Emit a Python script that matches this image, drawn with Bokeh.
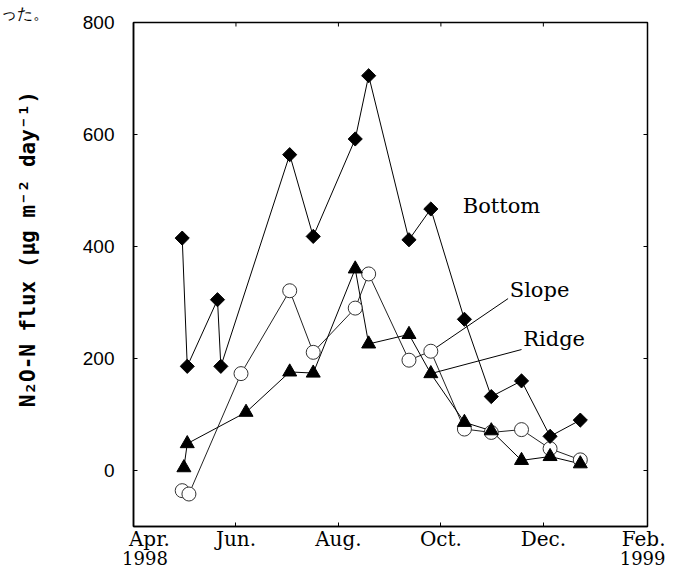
import numpy as np
import pandas as pd
from bokeh.plotting import figure
from bokeh.models import Range1d, FixedTicker, DatetimeAxis, Label, Title
from bokeh.embed import file_html
from bokeh.resources import INLINE

# ---------------- data ----------------
bottom_dates = ["1998-04-30", "1998-05-03", "1998-05-21", "1998-05-23", "1998-07-03",
                "1998-07-17", "1998-08-11", "1998-08-19", "1998-09-12", "1998-09-25",
                "1998-10-15", "1998-10-31", "1998-11-18", "1998-12-05", "1998-12-23"]
bottom_vals = [415, 186, 305, 186, 564, 418, 592, 705, 412, 467, 270, 132, 160, 61, 90]

slope_dates = ["1998-04-30", "1998-05-04", "1998-06-04", "1998-07-03", "1998-07-17",
               "1998-08-11", "1998-08-19", "1998-09-12", "1998-09-25", "1998-10-15",
               "1998-10-31", "1998-11-18", "1998-12-05", "1998-12-23"]
slope_vals = [-36, -42, 173, 321, 211, 290, 351, 197, 213, 74, 68, 73, 39, 19]

ridge_dates = ["1998-05-01", "1998-05-03", "1998-06-07", "1998-07-03", "1998-07-17",
               "1998-08-11", "1998-08-19", "1998-09-12", "1998-09-25", "1998-10-15",
               "1998-10-31", "1998-11-18", "1998-12-05", "1998-12-23"]
ridge_vals = [5, 48, 104, 176, 174, 360, 226, 243, 173, 86, 71, 18, 25, 12]

month_ticks = ["1998-04-01", "1998-06-01", "1998-08-01", "1998-10-01", "1998-12-01", "1999-02-01"]
month_labels = ["Apr.", "Jun.", "Aug.", "Oct.", "Dec.", "Feb."]
year_ticks = ["1998-04-01", "1999-02-01"]
year_labels = ["1998", "1999"]
y_ticks = [0, 200, 400, 600, 800]
y_min, y_max = -100, 800

y_title = "N\u2082O-N flux (\u03bcg m\u207b\u00b2 day\u207b\u00b9)"
corner_text = "った。"

# series name labels: (text, anchor date, anchor value)
name_labels = [("Bottom", "1998-10-14", 473), ("Slope", "1998-11-11", 323), ("Ridge", "1998-11-19", 234)]
# leader lines: start (date, value) -> end at the series point of this date
leader_end_date = "1998-09-25"
slope_leader_start = ("1998-11-10", 307)
ridge_leader_start = ("1998-11-18", 216)

NB = "\u00a0"


def ms(s):
    return int(pd.Timestamp(s).value // 10**6)


bx = [ms(d) for d in bottom_dates]
sx = [ms(d) for d in slope_dates]
rx = [ms(d) for d in ridge_dates]
tick_ms = [ms(t) for t in month_ticks]
year_ms = [ms(t) for t in year_ticks]

p = figure(width=665, height=571, x_axis_type="datetime",
           x_range=Range1d(tick_ms[0], tick_ms[-1]), y_range=Range1d(y_min, y_max),
           output_backend="svg", toolbar_location=None,
           min_border_left=133, min_border_right=18, min_border_top=22, min_border_bottom=45)
p.grid.visible = False
p.outline_line_color = "black"
p.outline_line_width = 1.5
p.background_fill_color = "white"
p.border_fill_color = "white"

# corner fragment of Japanese text (as title, shifted to the page's left edge)
p.title = Title(text=corner_text, align="left", offset=-133, standoff=0,
                text_font="DejaVu Sans", text_font_size="16px", text_line_height=1.0,
                text_font_style="normal", text_color="black")

# bottom x axis (months)
xa = p.xaxis[0]
xa.ticker = FixedTicker(ticks=tick_ms)
xa.major_label_overrides = {t: ((NB * 5 + lab) if i == 0 else lab)
                            for i, (t, lab) in enumerate(zip(tick_ms, month_labels))}
xa.major_label_text_font = "DejaVu Serif"
xa.major_label_text_font_size = "20px"
xa.major_label_text_color = "black"
xa.major_label_standoff = 0
xa.major_tick_in = 4
xa.major_tick_out = 0
xa.minor_tick_line_color = None
xa.axis_line_color = "black"
xa.axis_line_width = 1.5
xa.major_tick_line_color = "black"

# second bottom axis (years)
yr = DatetimeAxis(ticker=FixedTicker(ticks=year_ms),
                  major_label_overrides={year_ms[0]: NB * 4 + year_labels[0], year_ms[1]: year_labels[1]},
                  major_label_text_font="DejaVu Serif", major_label_text_font_size="18px",
                  major_label_text_color="black", major_label_standoff=-6,
                  major_tick_in=0, major_tick_out=0, major_tick_line_color=None,
                  minor_tick_line_color=None, axis_line_color=None)
p.add_layout(yr, "below")

# left y axis
ya = p.yaxis[0]
ya.ticker = FixedTicker(ticks=y_ticks)
ya.major_label_text_font = "Liberation Sans"
ya.major_label_text_font_size = "19px"
ya.major_label_text_color = "black"
ya.major_label_standoff = 19
ya.major_tick_in = 4
ya.major_tick_out = 0
ya.minor_tick_line_color = None
ya.axis_line_color = "black"
ya.axis_line_width = 1.5
ya.axis_label = NB * 4 + y_title
ya.axis_label_text_font = "DejaVu Sans Mono"
ya.axis_label_text_font_style = "bold"
ya.axis_label_text_font_size = "21px"
ya.axis_label_text_color = "black"
ya.axis_label_standoff = 40

# inward ticks on the top and right edges of the frame
p.ray(x=tick_ms, y=[y_max] * len(tick_ms), length=4, length_units="screen",
      angle=-np.pi / 2, line_color="black", line_width=1)
p.ray(x=[tick_ms[-1]] * len(y_ticks), y=y_ticks, length=4, length_units="screen",
      angle=np.pi, line_color="black", line_width=1)

# series lines
p.line(bx, bottom_vals, line_color="black", line_width=1)
p.line(sx, slope_vals, line_color="#222222", line_width=1)
p.line(rx, ridge_vals, line_color="black", line_width=1)

# leader lines
s_end = slope_vals[slope_dates.index(leader_end_date)]
r_end = ridge_vals[ridge_dates.index(leader_end_date)]
p.segment(x0=[ms(slope_leader_start[0]), ms(ridge_leader_start[0])],
          y0=[slope_leader_start[1], ridge_leader_start[1]],
          x1=[ms(leader_end_date), ms(leader_end_date)], y1=[s_end, r_end],
          line_color="black", line_width=1)

# markers
p.scatter(sx, slope_vals, marker="circle", size=14, fill_color="white",
          line_color="#333333", line_width=1)
p.scatter(rx, ridge_vals, marker="triangle", size=14, fill_color="black", line_color="black")
p.scatter(bx, bottom_vals, marker="square", angle=np.pi / 4, size=10,
          fill_color="black", line_color="black")

# series name labels
for text, d, v in name_labels:
    p.add_layout(Label(x=ms(d), y=v, text=text, text_align="left", text_baseline="middle",
                       text_font="DejaVu Serif", text_font_size="21px", text_color="black"))

open("out.html", "w").write(file_html(p, INLINE))
